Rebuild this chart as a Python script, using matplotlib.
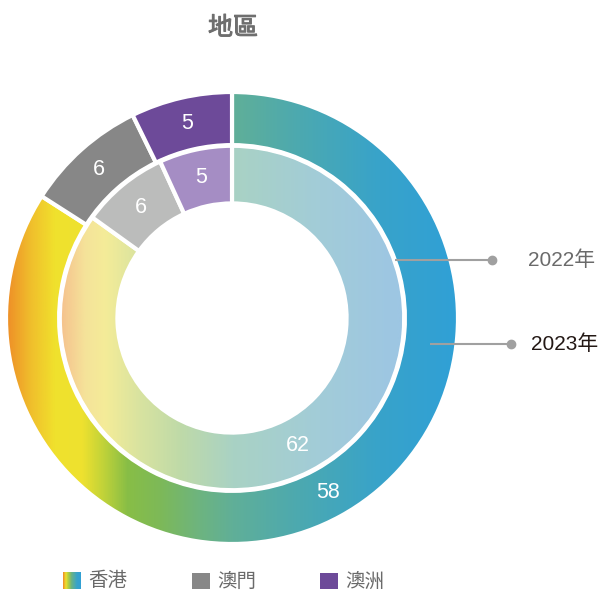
import numpy as np
import matplotlib
matplotlib.use('Agg')
import matplotlib.pyplot as plt
import matplotlib.patheffects as pe
from matplotlib.colors import LinearSegmentedColormap

# ---------------- data ----------------
title = '地區'
categories = ['香港', '澳門', '澳洲']
values_2023 = [58, 6, 5]   # outer ring
values_2022 = [62, 6, 5]   # inner ring
series_labels = ['2022年', '2023年']

# ---------------- styling ----------------
W, H = 604, 592
S = 226.0           # pixels per data unit
CX, CY = 232, 318   # ring centre in pixels (from top-left)

CJK = ['Noto Sans CJK TC', 'DejaVu Sans']
LAT = ['Liberation Sans', 'Noto Sans CJK TC', 'DejaVu Sans']

outer_colors = [None, '#878787', '#6D4A99']
inner_colors = [None, '#BBBCBB', '#A58DC4']

outer_stops = [(8, '#EE9228'), (30, '#F0BE2C'), (55, '#F0E22D'), (82, '#EEE12F'),
               (105, '#BCD13A'), (127, '#88BE46'), (160, '#7DB958'), (200, '#6DB480'),
               (233, '#60AF98'), (300, '#4CA9B0'), (380, '#38A3CA'), (456, '#30A0D6')]
inner_stops = [(62, '#F5C48E'), (85, '#F5E39A'), (105, '#F4EC98'), (140, '#D8E3A0'),
               (180, '#BFDAA8'), (233, '#A9D2C4'), (320, '#A2CCD8'), (398, '#9DC6E3')]

IMG_X0, IMG_X1 = 0, 470   # pixel span of gradient images


def make_cmap(stops, name):
    pts = [(IMG_X0, stops[0][1])] + stops + [(IMG_X1, stops[-1][1])]
    return LinearSegmentedColormap.from_list(
        name, [((p - IMG_X0) / (IMG_X1 - IMG_X0), c) for p, c in pts])


fig = plt.figure(figsize=(W / 100, H / 100), dpi=100)
ax = fig.add_axes([0, 0, 1, 1])
ax.axis('off')

R_OUT, W_OUT = 1.0, 0.235
R_IN, W_IN = 0.762, 0.255
EDGE = 3.0

grad = np.linspace(0, 1, 1024).reshape(1, -1)
XA, XB = (IMG_X0 - CX) / S, (IMG_X1 - CX) / S


def ring(values, radius, width, colors, stops, name):
    wedges, _ = ax.pie(values, radius=radius, startangle=90, counterclock=False,
                       colors=[c if c else 'none' for c in colors],
                       wedgeprops=dict(width=width, edgecolor='white', linewidth=EDGE))
    cmap = make_cmap(stops, name)
    for w, c in zip(wedges, colors):
        w.set_zorder(3)
        if c is None:
            im = ax.imshow(grad, cmap=cmap, extent=(XA, XB, -radius - 0.05, radius + 0.05),
                           aspect='auto', interpolation='bilinear', zorder=2)
            im.set_clip_path(w)
    total = sum(values)
    cum = 0
    rm = radius - width / 2
    for v in values:
        th = np.deg2rad((cum + v / 2) / total * 360)
        ax.text(rm * np.sin(th), rm * np.cos(th), str(v), color='white',
                fontsize=15.5, ha='center', va='center', family=LAT, zorder=5)
        cum += v
    return cmap


cmap_out = ring(values_2023, R_OUT, W_OUT, outer_colors, outer_stops, 'outer')
ring(values_2022, R_IN, W_IN, inner_colors, inner_stops, 'inner')

# ---------------- series annotations ----------------
ann = [  # (label, y_px, x_start_px, x_end_px, text_x_px, color)
    (series_labels[0], 260, 395, 492, 528, '#6A6A6A'),
    (series_labels[1], 344, 430, 511, 531, '#231815'),
]
for lab, yp, xs, xe, xt, col in ann:
    y = (CY - yp) / S
    ax.plot([(xs - CX) / S, (xe - CX) / S], [y, y], color='#A0A0A0', lw=1.5,
            zorder=6, solid_capstyle='butt')
    ax.plot([(xe - CX) / S], [y], 'o', color='#A0A0A0', ms=6, zorder=6)
    ax.text((xt - CX) / S, y, lab, color=col, fontsize=15, ha='left', va='center',
            family=LAT, zorder=6)

# ---------------- title ----------------
ax.text((233 - CX) / S, (CY - 28) / S, title, color='#6E6E6E', fontsize=18,
        ha='center', va='center', family=CJK,
        path_effects=[pe.withStroke(linewidth=0.7, foreground='#6E6E6E')])

# ---------------- legend ----------------
leg_y = (CY - 581) / S
ph = 16 / S
pw = 18 / S
leg_x = [63, 192, 320]
leg_fill = [None, outer_colors[1], outer_colors[2]]
leg_cmap = make_cmap([(8, '#EE9228'), (12, '#F0E22D'), (16, '#B8D03C'),
                      (22, '#6DB480'), (32, '#38A3CA'), (40, '#30A0D6')], 'leg')
for x_px, c, name in zip(leg_x, leg_fill, categories):
    x0 = (x_px - CX) / S
    if c is None:
        ax.imshow(np.linspace(0.017, 0.085, 64).reshape(1, -1), cmap=leg_cmap,
                  vmin=0, vmax=1, extent=(x0, x0 + pw, leg_y - ph / 2, leg_y + ph / 2),
                  aspect='auto', interpolation='bilinear', zorder=2)
    else:
        ax.add_patch(plt.Rectangle((x0, leg_y - ph / 2), pw, ph, color=c, lw=0))
    ax.text(x0 + pw + 7 / S, leg_y, name, color='#6A6A6A', fontsize=14,
            ha='left', va='center', family=CJK)

ax.set_xlim(-CX / S, (W - CX) / S)
ax.set_ylim(-(H - CY) / S, CY / S)
ax.set_aspect('auto')

fig.savefig('out.png', dpi=100)
